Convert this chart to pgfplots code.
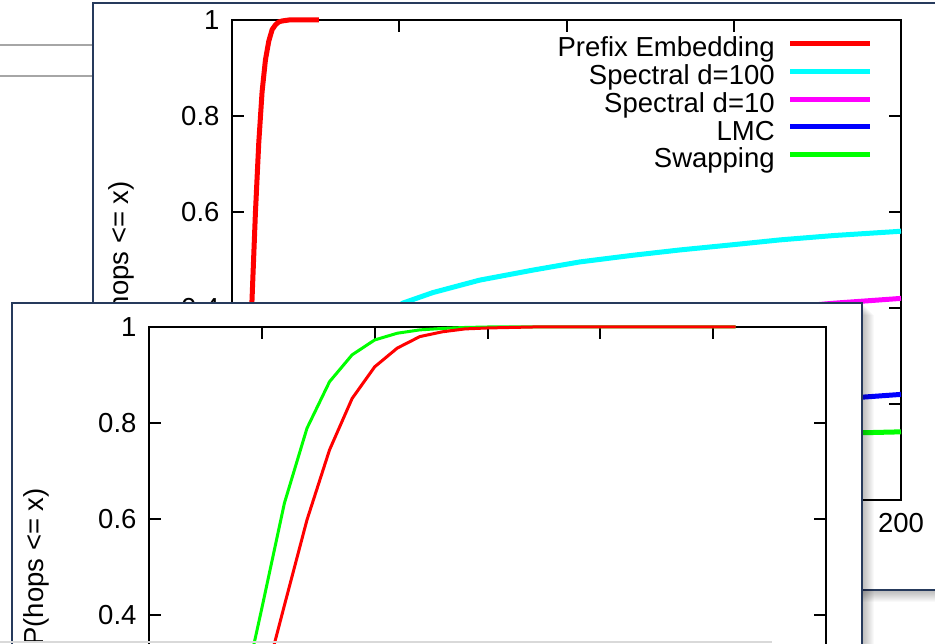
\documentclass[border=0pt]{standalone}
\usepackage{fontspec}
\setmainfont{Liberation Sans}
\usepackage{pgfplots}
\pgfplotsset{compat=1.18}
\definecolor{panelborder}{RGB}{38,58,92}
\definecolor{gpred}{RGB}{255,0,0}
\definecolor{gpcyan}{RGB}{0,255,255}
\definecolor{gpmagenta}{RGB}{255,0,255}
\definecolor{gpblue}{RGB}{0,0,255}
\definecolor{gpgreen}{RGB}{0,255,0}
\newcommand\fs{\fontsize{27.5}{32}\selectfont}
\pgfplotsset{
  cdfaxis/.style={
    anchor=south west, scale only axis, clip=false,
    ymin=0, ymax=1, ytick={0,0.2,0.4,0.6,0.8,1},
    tick align=inside, tick pos=both, major tick length=12pt,
    axis line style={line width=2pt},
    tick style={black, line width=2pt},
    /pgf/number format/assume math mode=true,
    tick label style={font=\fs},
    yticklabel style={xshift=-9pt},
    xticklabel style={yshift=-10pt},
    label style={font=\fs},
    ylabel={P(hops <= x)},
    ylabel style={at={(axis description cs:-0.166,0.5)}, anchor=center},
  },
}
\begin{document}
\begin{tikzpicture}
\path[use as bounding box] (0pt,0pt) rectangle (935pt,643pt);
\clip (0pt,0pt) rectangle (935pt,643pt);
\fill[white] (0pt,0pt) rectangle (935pt,643pt);
% window edges on the left
\draw[gray!70, line width=1.2pt] (0pt,598pt) -- (93pt,598pt);
\draw[gray!70, line width=1.2pt] (0pt,567pt) -- (93pt,567pt);

% back panel
\foreach \i in {1,...,12}
  \fill[black, opacity=0.025, shift={(\i*1pt,-\i*1pt)}] (93pt,53pt) rectangle (960pt,640pt);
\filldraw[fill=white, draw=panelborder, line width=1.5pt] (93pt,53pt) rectangle (960pt,640pt);

\begin{axis}[cdfaxis,
  at={(232pt,143pt)}, width=669pt, height=480pt,
  xmin=0, xmax=200, xtick={0,50,100,150,200},
  legend style={draw=none, fill=none, at={(axis description cs:0.958,0.965)},
    anchor=north east, inner sep=0pt, row sep=0pt, column sep=13pt, font=\fs,
    nodes={inner sep=0pt, text height=20pt, text depth=7.7pt}},
  legend plot pos=right, legend cell align=right,
  legend image code/.code={\draw[#1] (0pt,7pt) -- (80pt,7pt);},
]
\addplot[gpred, line width=5pt] coordinates {
(0,0) (1,0) (2,0.005) (3,0.03) (4,0.1) (5,0.24) (6,0.42) (7,0.598) (8,0.744)
(9,0.851) (10,0.917) (11,0.956) (12,0.98) (13,0.99) (14,0.996) (15,0.998)
(16,0.999) (17,1) (26,1)};
\addlegendentry{Prefix Embedding}
\addplot[gpcyan, line width=5pt] coordinates {
(0,0) (2,0.01) (5,0.05) (10,0.12) (20,0.22) (30,0.29) (40,0.35) (51,0.41)
(60,0.432) (74,0.458) (90,0.479) (104,0.496) (120,0.51) (134,0.521) (150,0.532)
(164,0.542) (180,0.551) (198,0.559) (200,0.56)};
\addlegendentry{Spectral d=100}
\addplot[gpmagenta, line width=5pt] coordinates {
(0,0) (5,0.02) (10,0.05) (20,0.1) (40,0.18) (60,0.24) (80,0.29) (100,0.33)
(120,0.36) (140,0.383) (160,0.398) (180,0.41) (200,0.42)};
\addlegendentry{Spectral d=10}
\addplot[gpblue, line width=5pt] coordinates {
(0,0) (5,0.01) (10,0.025) (25,0.06) (50,0.1) (75,0.13) (100,0.155) (125,0.175)
(150,0.192) (175,0.206) (188,0.214) (200,0.22)};
\addlegendentry{LMC}
\addplot[gpgreen, line width=5pt] coordinates {
(0,0) (5,0.01) (10,0.025) (25,0.05) (50,0.08) (75,0.1) (100,0.115) (125,0.125)
(150,0.132) (175,0.137) (188,0.14) (200,0.142)};
\addlegendentry{Swapping}
\end{axis}

% front panel
\foreach \i in {1,...,12}
  \fill[black, opacity=0.025, shift={(\i*1pt,-\i*1pt)}] (12pt,-60pt) rectangle (862pt,340pt);
\filldraw[fill=white, draw=panelborder, line width=1.5pt] (12pt,-60pt) rectangle (862pt,340pt);

\begin{axis}[cdfaxis,
  at={(149pt,-164pt)}, width=677pt, height=480pt,
  xmin=0, xmax=30, xtick={0,5,10,15,20,25,30}, xticklabels={},
]
\addplot[gpgreen, line width=3pt] coordinates {
(0,0) (1,0) (2,0.01) (3,0.06) (4,0.2) (5,0.414) (6,0.633) (7,0.789) (8,0.886)
(9,0.942) (10,0.973) (11,0.987) (12,0.994) (13,0.997) (14,0.999) (15,1) (26,1)};
\addplot[gpred, line width=3pt] coordinates {
(0,0) (1,0) (2,0.005) (3,0.03) (4,0.1) (5,0.24) (6,0.42) (7,0.598) (8,0.744)
(9,0.851) (10,0.917) (11,0.956) (12,0.98) (13,0.99) (14,0.996) (15,0.998)
(16,0.999) (17,1) (26,1)};
\end{axis}

\draw[gray!30, line width=2pt] (0pt,1.5pt) -- (772pt,1.5pt);
\end{tikzpicture}
\end{document}
